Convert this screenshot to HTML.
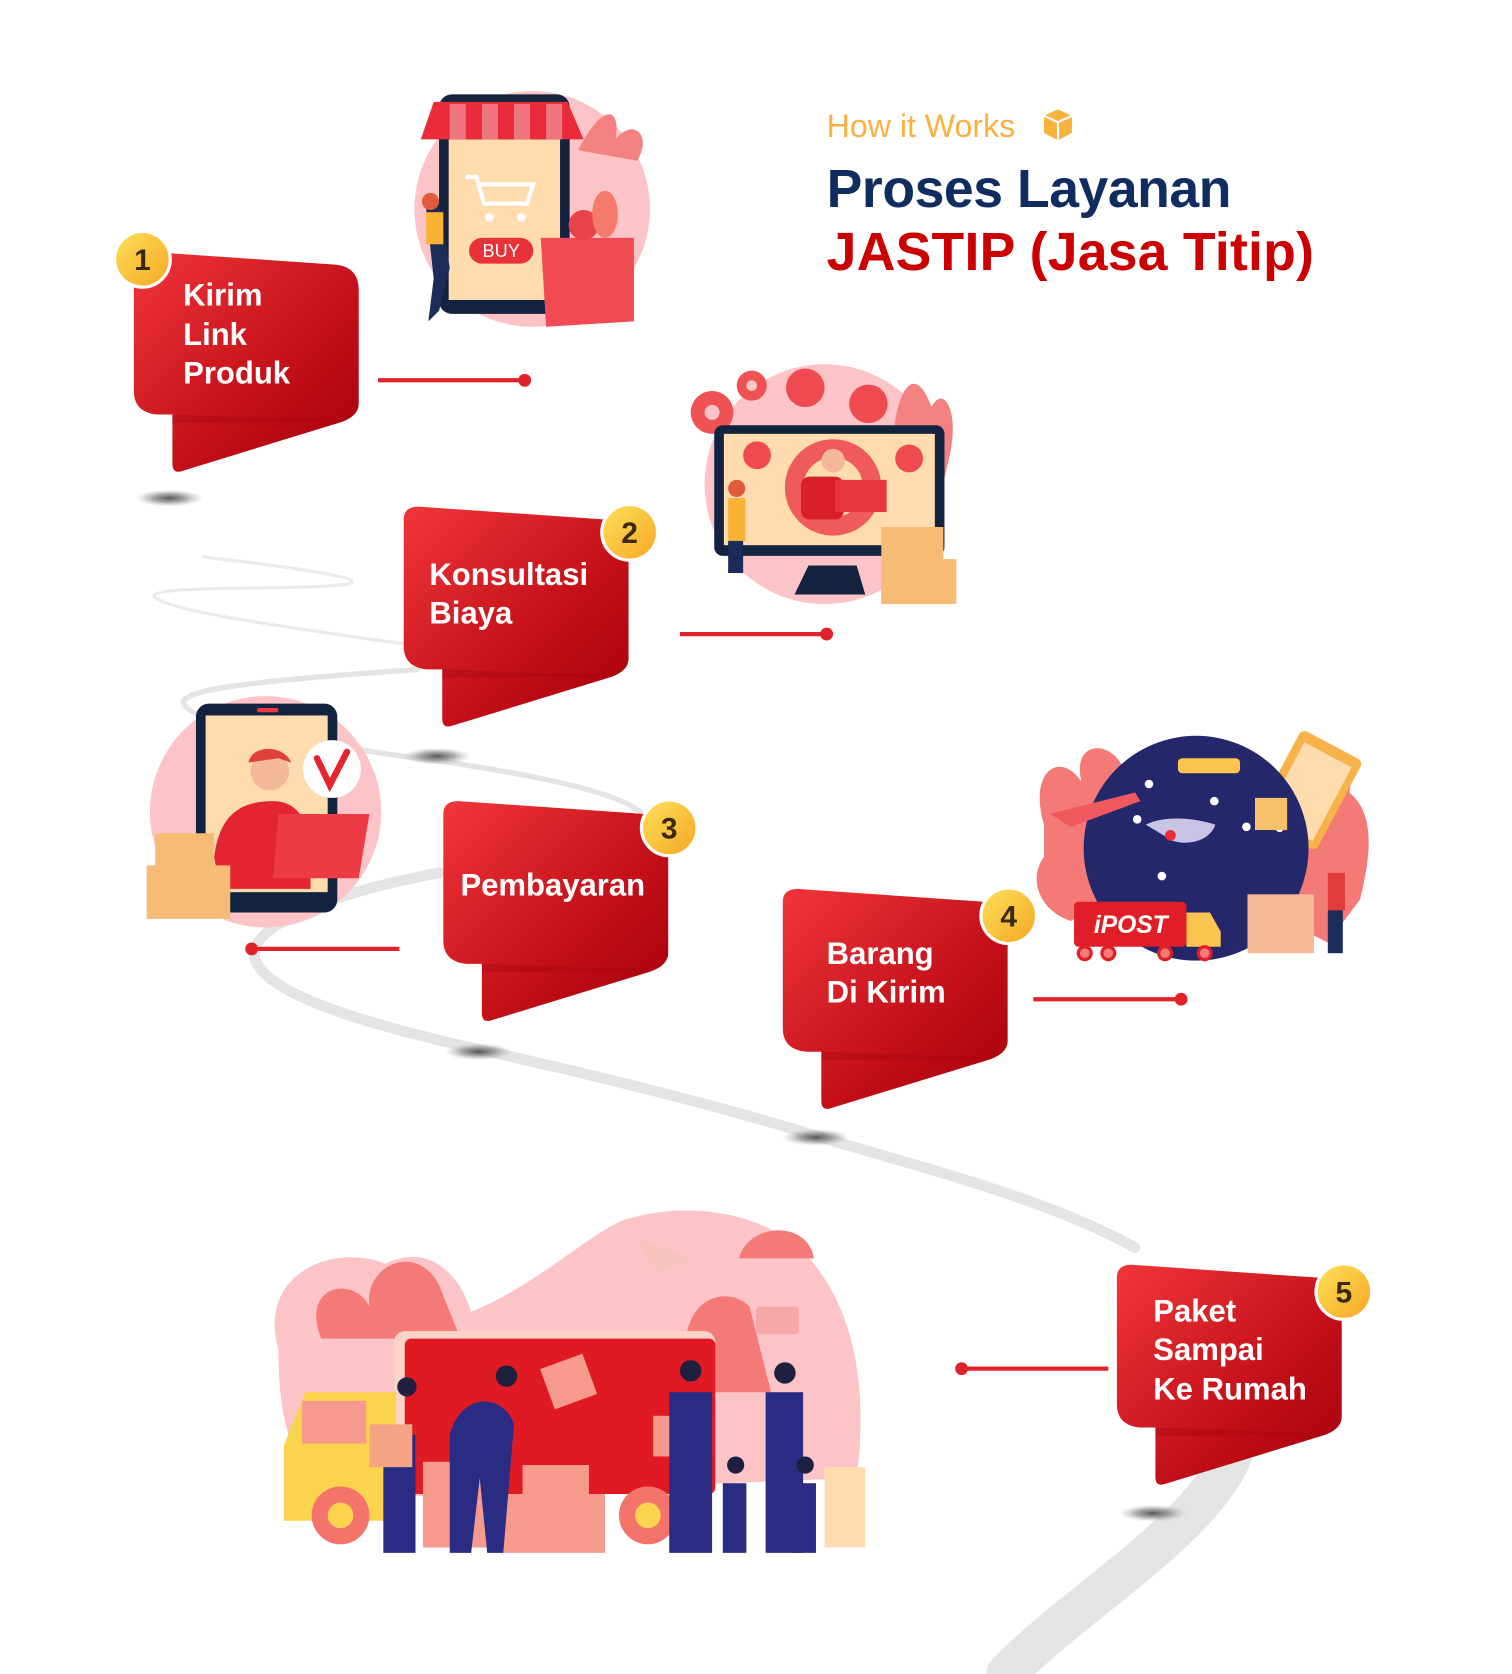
<!DOCTYPE html>
<html><head><meta charset="utf-8"><style>
html,body{margin:0;padding:0;background:#fff;}
svg{display:block;}
text{font-family:"Liberation Sans",sans-serif;}
</style></head><body>
<svg width="1512" height="1674" viewBox="0 0 1412 1563" xmlns="http://www.w3.org/2000/svg">
<defs>
<linearGradient id="rg" x1="0" y1="0" x2="1" y2="1">
<stop offset="0" stop-color="#f0363b"/><stop offset="0.6" stop-color="#c30f18"/><stop offset="1" stop-color="#a3000c"/>
</linearGradient>
<linearGradient id="yg" x1="0" y1="0" x2="1" y2="1">
<stop offset="0" stop-color="#fde15a"/><stop offset="1" stop-color="#f6a623"/>
</linearGradient>
<radialGradient id="sh"><stop offset="0" stop-color="#555"/><stop offset="0.5" stop-color="#888" stop-opacity="0.7"/><stop offset="1" stop-color="#bbb" stop-opacity="0"/></radialGradient>
<g id="box">
<path d="M0,12 Q0,0 14,0 L188,12 Q210,14 210,36 L210,142 Q210,153 194,159 L44,205 Q36,207 36,198 L36,152 L22,152 Q0,150 0,130 Z" fill="url(#rg)"/>
<path d="M36,152 L200,158 L36,160 Z" fill="#8a000a" opacity="0.25"/>
</g>
</defs>

<!-- road -->
<g fill="none" stroke="#e4e4e4" stroke-linecap="round">
<path d="M190,520 C260,528 350,540 325,545 C290,552 130,545 145,558 C160,572 300,590 390,603" stroke-width="3" stroke="#ebebeb"/>
<path d="M390,625 C300,632 160,640 172,658 C185,680 330,700 420,712 C500,724 580,740 600,760" stroke-width="5"/>
<path d="M410,815 C330,830 230,860 238,895 C250,935 380,965 470,985 C560,1005 680,1035 760,1060 C860,1090 980,1120 1060,1165" stroke-width="10"/>
<path d="M1150,1360 C1120,1430 1000,1500 940,1563" stroke-width="38"/>
</g>
<g>
<ellipse cx="158" cy="465" rx="32" ry="8" fill="url(#sh)"/>
<ellipse cx="408" cy="706" rx="32" ry="8" fill="url(#sh)"/>
<ellipse cx="447" cy="982" rx="32" ry="8" fill="url(#sh)"/>
<ellipse cx="762" cy="1062" rx="32" ry="8" fill="url(#sh)"/>
<ellipse cx="1077" cy="1413" rx="32" ry="8" fill="url(#sh)"/>
</g>

<!-- title -->
<text x="772" y="128" font-size="30" fill="#fbb040">How it Works</text>
<g transform="translate(975,102)"><path d="M0,6 L13,0 L26,6 L26,22 L13,29 L0,22 Z" fill="#f8b33c"/><path d="M0,6 L13,12 L26,6 M13,12 L13,29" stroke="#fff" stroke-width="2" fill="none"/></g>
<text x="772" y="193" font-size="50" font-weight="bold" fill="#0f2d5e" textLength="378">Proses Layanan</text>
<text x="772" y="252" font-size="50" font-weight="bold" fill="#cc0000" textLength="455">JASTIP (Jasa Titip)</text>

<!-- illustration 1 -->
<g>
<circle cx="497" cy="195" r="110" fill="#fcc4c6"/>
<path d="M540,140 C560,100 580,95 575,130 C590,110 610,125 595,150 Z" fill="#f2817f"/>
<rect x="410" y="88" width="122" height="205" rx="12" fill="#13223f"/>
<rect x="419" y="130" width="104" height="150" fill="#fedcae"/>
<path d="M393,130 L405,95 L530,95 L545,130 Z" fill="#ea2b3a"/>
<g fill="#fff" opacity="0.35"><rect x="420" y="97" width="15" height="33"/><rect x="450" y="97" width="15" height="33"/><rect x="480" y="97" width="15" height="33"/><rect x="510" y="97" width="15" height="33"/></g>
<path d="M435,165 L445,165 L452,190 L492,190 L498,172 L448,172" stroke="#fff" stroke-width="4" fill="none"/>
<circle cx="457" cy="203" r="4" fill="#fff"/><circle cx="487" cy="203" r="4" fill="#fff"/>
<rect x="438" y="222" width="60" height="24" rx="12" fill="#e9313a"/>
<text x="468" y="240" font-size="17" fill="#fff" text-anchor="middle">BUY</text>
<path d="M505,222 L592,222 L592,300 L510,305 Z" fill="#f24a52"/>
<circle cx="545" cy="210" r="14" fill="#e8424a"/><ellipse cx="565" cy="200" rx="12" ry="22" fill="#f47a6c"/>
<path d="M398,195 C388,185 400,180 410,190 L420,250 L410,290 L400,300 L405,260 Z" fill="#1b2b5a"/>
<rect x="398" y="198" width="16" height="30" fill="#f9b233"/>
<circle cx="402" cy="188" r="8" fill="#e25a3c"/>
</g>

<!-- illustration 2 -->
<g>
<circle cx="770" cy="452" r="112" fill="#fcc4c6"/>
<path d="M835,400 C840,360 855,340 870,380 C880,360 895,380 888,420 L870,500 Z" fill="#f2817f"/>
<circle cx="665" cy="385" r="20" fill="#ef5255"/><circle cx="665" cy="385" r="7" fill="#fcc4c6"/>
<circle cx="702" cy="360" r="14" fill="#ef5255"/><circle cx="702" cy="360" r="5" fill="#fcc4c6"/>
<circle cx="752" cy="362" r="18" fill="#ef4a50"/><circle cx="811" cy="377" r="18" fill="#ef4a50"/>
<rect x="667" y="397" width="215" height="122" rx="8" fill="#13223f"/>
<rect x="676" y="405" width="197" height="104" fill="#fedcae"/>
<path d="M755,528 L800,528 L808,555 L742,555 Z" fill="#13223f"/>
<circle cx="778" cy="455" r="45" fill="#ef5a5c"/><circle cx="778" cy="455" r="28" fill="#fedcae"/>
<rect x="748" y="445" width="40" height="40" rx="8" fill="#d9202a"/>
<circle cx="778" cy="430" r="11" fill="#f3b79a"/>
<rect x="780" y="448" width="48" height="30" fill="#e6353b"/>
<circle cx="707" cy="425" r="13" fill="#ef4a50"/><circle cx="849" cy="428" r="13" fill="#ef4a50"/>
<rect x="823" y="492" width="58" height="35" fill="#f6bb74"/><rect x="823" y="522" width="70" height="42" fill="#f6bb74"/>
<rect x="680" y="465" width="16" height="40" fill="#f9b233"/><rect x="680" y="505" width="14" height="30" fill="#1b2b5a"/>
<circle cx="688" cy="456" r="8" fill="#e25a3c"/>
</g>

<!-- illustration 3 -->
<g>
<circle cx="248" cy="758" r="108" fill="#fcc4c6"/>
<rect x="183" y="657" width="132" height="195" rx="12" fill="#13223f"/>
<rect x="192" y="668" width="114" height="165" fill="#fedcae"/>
<rect x="240" y="661" width="20" height="4" rx="2" fill="#ef3c44"/>
<circle cx="310" cy="718" r="27" fill="#fff"/>
<path d="M296,708 L308,733 L324,702" stroke="#e5242f" stroke-width="6" fill="none" stroke-linecap="round"/>
<circle cx="252" cy="720" r="18" fill="#f3b79a"/>
<path d="M232,712 C235,695 265,695 272,712 L260,708 Z" fill="#e0413b"/>
<path d="M200,800 C205,760 225,748 255,748 C280,748 290,770 290,800 L290,830 L205,830 Z" fill="#e32531"/>
<path d="M260,760 L345,760 L335,820 L255,820 Z" fill="#ec3b45"/>
<rect x="145" y="778" width="55" height="35" fill="#f6bb74"/>
<rect x="137" y="808" width="78" height="50" fill="#f6bb74"/>
</g>

<!-- illustration 4 -->
<g>
<path d="M975,770 C960,720 990,700 1010,730 C1000,690 1040,690 1050,720 L1070,820 L1000,860 C970,850 960,820 975,800 Z" fill="#f37a77"/>
<path d="M1200,720 C1230,690 1270,690 1260,740 C1285,760 1280,800 1270,840 L1240,880 L1200,860 Z" fill="#f37a77"/>
<rect x="1190" y="690" width="65" height="95" rx="6" fill="#f7b34a" transform="rotate(28 1222 737)"/>
<rect x="1198" y="700" width="50" height="78" fill="#fedcae" transform="rotate(28 1222 737)"/>
<circle cx="1117" cy="792" r="105" fill="#25276b"/>
<path d="M1070,770 C1090,760 1120,765 1135,770 C1130,785 1110,790 1095,785 Z" fill="#c9c4e6"/>
<g fill="#fff"><circle cx="1073" cy="732" r="4"/><circle cx="1134" cy="748" r="4"/><circle cx="1062" cy="765" r="4"/><circle cx="1164" cy="772" r="4"/><circle cx="1085" cy="818" r="4"/><circle cx="1195" cy="773" r="4"/></g>
<circle cx="1093" cy="780" r="5" fill="#ea2b3a"/>
<path d="M980,760 L1060,740 L1065,748 L1000,772 Z" fill="#f05a5e"/>
<rect x="1100" y="708" width="58" height="14" rx="4" fill="#f9c54e"/>
<rect x="1172" y="745" width="30" height="30" fill="#f6c16a"/>
<rect x="1165" y="835" width="62" height="55" fill="#f7b995"/>
<rect x="1003" y="842" width="105" height="42" rx="4" fill="#e01e27"/>
<path d="M1108,852 L1130,852 L1140,870 L1140,884 L1108,884 Z" fill="#f9c54e"/>
<text x="1056" y="871" font-size="23" font-weight="bold" font-style="italic" fill="#fff" text-anchor="middle">iPOST</text>
<g fill="#f37a77" stroke="#e01e27" stroke-width="3"><circle cx="1013" cy="890" r="6"/><circle cx="1035" cy="890" r="6"/><circle cx="1088" cy="890" r="6"/><circle cx="1125" cy="890" r="6"/></g>
<rect x="1240" y="815" width="16" height="35" fill="#e23b3b"/><rect x="1240" y="850" width="14" height="40" fill="#1b2b5a"/>
</g>

<!-- illustration 5 -->
<g>
<path d="M260,1260 C240,1190 310,1160 360,1180 C400,1160 430,1190 440,1225 C500,1200 540,1160 580,1140 C640,1120 720,1130 760,1180 C800,1230 810,1300 800,1380 L320,1400 C270,1380 260,1320 260,1260 Z" fill="#fcc4c6"/>
<path d="M300,1250 C280,1200 330,1190 345,1220 C340,1180 390,1160 410,1200 L430,1250 Z" fill="#f37a77"/>
<path d="M640,1260 C640,1210 680,1200 700,1220 L720,1300 L650,1300 Z" fill="#f37a77"/>
<path d="M593,1155 L645,1175 L615,1190 Z" fill="#f9c3bd"/>
<path d="M690,1175 C700,1140 755,1140 760,1175 Z" fill="#f37a77"/>
<rect x="706" y="1220" width="40" height="26" rx="4" fill="#f7a8a6"/>
<rect x="368" y="1243" width="300" height="152" rx="10" fill="#fbd3c7"/>
<rect x="378" y="1250" width="290" height="145" rx="6" fill="#df1a23"/>
<path d="M285,1300 L370,1300 L370,1420 L265,1420 L265,1350 Z" fill="#fbd44e"/>
<rect x="282" y="1308" width="60" height="40" fill="#f69a8e"/>
<circle cx="318" cy="1415" r="27" fill="#f4736a"/><circle cx="318" cy="1415" r="12" fill="#fbd44e"/>
<circle cx="605" cy="1415" r="27" fill="#f4736a"/><circle cx="605" cy="1415" r="12" fill="#fbd44e"/>
<g fill="#f69a8e"><rect x="470" y="1395" width="95" height="55"/><rect x="488" y="1368" width="62" height="30"/><rect x="395" y="1365" width="70" height="80"/><rect x="510" y="1270" width="42" height="40" transform="rotate(-20 531 1290)"/><rect x="610" y="1322" width="55" height="38"/></g>
<g fill="#2a2b82">
<rect x="358" y="1340" width="30" height="110"/><path d="M420,1340 C430,1300 470,1300 480,1330 L470,1450 L455,1450 L448,1380 L440,1450 L420,1450 Z"/>
<rect x="625" y="1300" width="40" height="150"/><rect x="715" y="1300" width="35" height="150"/><rect x="675" y="1385" width="22" height="65"/><rect x="740" y="1385" width="22" height="65"/>
</g>
<g fill="#f4a485"><rect x="345" y="1330" width="40" height="40"/></g>
<g fill="#1f1f3f"><circle cx="380" cy="1295" r="9"/><circle cx="473" cy="1285" r="10"/><circle cx="645" cy="1280" r="10"/><circle cx="733" cy="1282" r="10"/><circle cx="687" cy="1368" r="8"/><circle cx="752" cy="1368" r="8"/></g>
<rect x="770" y="1370" width="38" height="75" fill="#fedcae"/>
</g>

<!-- connectors -->
<g stroke="#e0232b" stroke-width="4" fill="#e0232b">
<line x1="353" y1="355" x2="490" y2="355"/><circle cx="490" cy="355" r="6" stroke="none"/>
<line x1="635" y1="592" x2="772" y2="592"/><circle cx="772" cy="592" r="6" stroke="none"/>
<line x1="373" y1="886" x2="235" y2="886"/><circle cx="235" cy="886" r="6" stroke="none"/>
<line x1="965" y1="933" x2="1103" y2="933"/><circle cx="1103" cy="933" r="6" stroke="none"/>
<line x1="1035" y1="1278" x2="898" y2="1278"/><circle cx="898" cy="1278" r="6" stroke="none"/>
</g>

<!-- boxes -->
<use href="#box" x="125" y="235"/>
<use href="#box" x="377" y="473"/>
<use href="#box" x="414" y="748"/>
<use href="#box" x="731" y="830"/>
<use href="#box" x="1043" y="1181"/>

<g font-size="29" font-weight="bold" fill="#fff">
<text x="171" y="285">Kirim</text><text x="171" y="322">Link</text><text x="171" y="358">Produk</text>
<text x="401" y="546">Konsultasi</text><text x="401" y="582">Biaya</text>
<text x="430" y="836">Pembayaran</text>
<text x="772" y="900">Barang</text><text x="772" y="936">Di Kirim</text>
<text x="1077" y="1234">Paket</text><text x="1077" y="1270">Sampai</text><text x="1077" y="1307">Ke Rumah</text>
</g>

<!-- badges -->
<g stroke="#fff" stroke-width="3" fill="url(#yg)">
<circle cx="133" cy="242" r="26"/><circle cx="588" cy="497" r="26"/><circle cx="625" cy="773" r="26"/><circle cx="942" cy="855" r="26"/><circle cx="1255" cy="1206" r="26"/>
</g>
<g font-size="28" font-weight="bold" fill="#3a2a10" text-anchor="middle">
<text x="133" y="252">1</text><text x="588" y="507">2</text><text x="625" y="783">3</text><text x="942" y="865">4</text><text x="1255" y="1216">5</text>
</g>
</svg>
</body></html>
